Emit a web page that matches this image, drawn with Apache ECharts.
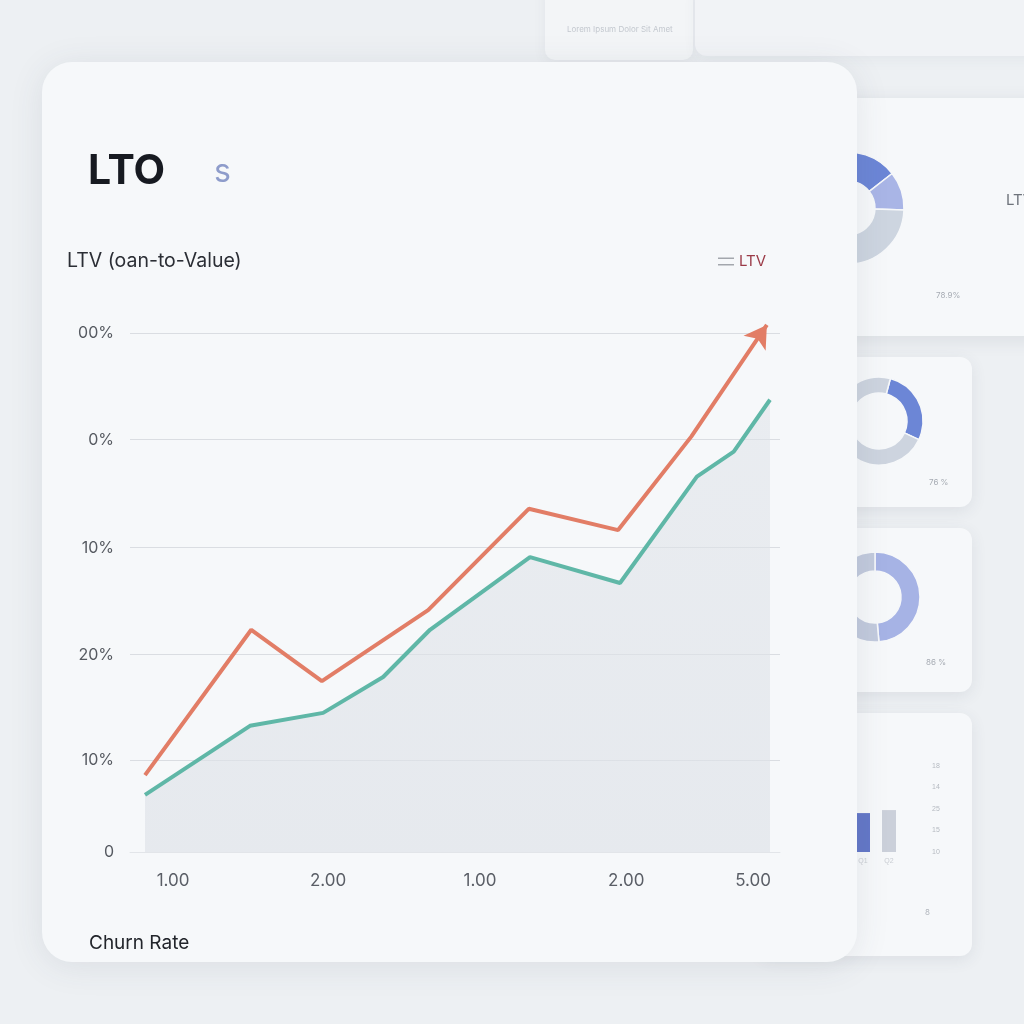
<!DOCTYPE html>
<html>
<head>
<meta charset="utf-8">
<script src="https://cdn.jsdelivr.net/npm/echarts@6/dist/echarts.min.js"></script>
<style>
html,body{margin:0;padding:0;background:#EDF0F3;}
#c{width:1024px;height:1024px;}
</style>
</head>
<body>
<div id="c"></div>
<script>
// ---- main chart data ----
const xTickValues = [4.5, 29.3, 53.6, 77.0, 97.3];
const xTickLabels = ['1.00', '2.00', '1.00', '2.00', '5.00'];
const yTickValues = [0, 17.7, 38.0, 58.6, 79.4, 100];
const yTickLabels = ['0', '10%', '20%', '10%', '0%', '00%'];
const ltvX = [0, 17.0, 28.3, 45.3, 61.4, 75.7, 87.4, 99.5];
const ltvY = [14.8, 42.8, 32.9, 46.6, 66.1, 62.0, 80.0, 101.5];
const churnX = [0, 16.8, 28.5, 38.1, 45.6, 61.6, 76.0, 88.3, 94.2, 100];
const churnY = [11.0, 24.3, 26.8, 33.7, 42.8, 56.8, 51.8, 72.3, 77.1, 87.1];

// ---- background widget data ----
const donutA = [67, 40, 253];
const donutAColors = ['#6C86D6', '#A9B5E6', '#CDD5E0'];
const donutB = [100, 260];
const donutBColors = ['#6C86D6', '#CDD4DF'];
const donutC = [175, 185];
const donutCColors = ['#A6B3E5', '#C2CADD'];
const miniBarCats = ['Q1', 'Q2'];
const miniBarValues = [1.81, 1.95];
const miniBarColors = ['#6478C8', '#CBD0DA'];
const miniYLabels = ['10', '15', '25', '14', '18'];

const RED = '#E27D66';
const TEAL = '#5FB7A7';

const chart = echarts.init(document.getElementById('c'), null, {renderer: 'canvas'});

const ltvData = ltvX.map((x, i) => {
  const last = i === ltvX.length - 1;
  return last ? {value: [x, ltvY[i]], symbol: 'arrow', symbolSize: [20, 22], symbolRotate: -34, itemStyle: {color: RED}}
              : {value: [x, ltvY[i]]};
});
const churnData = churnX.map((x, i) => [x, churnY[i]]);

function card(x, y, w, h, r, fill, z, blur, alpha) {
  return {type: 'rect', z: z, shape: {x: x, y: y, width: w, height: h, r: r},
    style: {fill: fill, shadowBlur: blur, shadowColor: 'rgba(60,70,90,' + alpha + ')', shadowOffsetY: 4}};
}
function txt(x, y, text, font, fill, z, align) {
  return {type: 'text', z: z, style: {x: x, y: y, text: text, font: font, fill: fill, align: align || 'left', verticalAlign: 'middle'}};
}
function donut(vals, colors, center, radius, startAngle) {
  return {
    type: 'pie', z: 1, center: center, radius: radius, startAngle: startAngle,
    silent: true, label: {show: false}, labelLine: {show: false},
    itemStyle: {borderColor: '#F6F8FA', borderWidth: 1.5},
    data: vals.map((v, i) => ({value: v, itemStyle: {color: colors[i]}}))
  };
}

const option = {
  backgroundColor: '#EDF0F3',
  animation: false,
  graphic: [
    // background cards
    card(545, -20, 148, 80, 10, '#F3F5F7', 0, 14, 0.06),
    card(695, -20, 360, 76, 12, '#F1F3F6', 0, 14, 0.05),
    card(700, 98, 360, 238, 14, '#F6F8FA', 0, 18, 0.10),
    card(760, 357, 212, 150, 12, '#F6F8FA', 0, 16, 0.09),
    card(760, 528, 212, 164, 12, '#F6F8FA', 0, 16, 0.09),
    card(760, 713, 212, 243, 12, '#F6F8FA', 0, 16, 0.09),
    txt(567, 30, 'Lorem Ipsum Dolor Sit Amet', '8px Inter', '#C3C8CF', 0),
    txt(1006, 200, 'LTV', '15px Inter', '#6E737B', 0),
    txt(936, 296, '78.9%', '8px Inter', '#A6ABB3', 0),
    txt(929, 483, '76 %', '8px Inter', '#A6ABB3', 0),
    txt(926, 663, '86 %', '8px Inter', '#A6ABB3', 0),
    txt(925, 913, '8', '8px Inter', '#B0B5BC', 0),
    // main card
    card(42, 62, 815, 900, 30, '#F6F8FA', 3, 34, 0.10),
    txt(88, 172, 'LTO', 'bold 41px Inter', '#171A21', 6),
    txt(214, 172, 's', '32px Inter', '#8E9CCB', 6),
    txt(67, 261, 'LTV (oan-to-Value)', '19.5px Inter', '#2B2E35', 6),
    txt(89, 943, 'Churn Rate', '19px Inter', '#22252B', 6)
  ],
  legend: {
    z: 6,
    left: 713, top: 249,
    itemWidth: 16, itemHeight: 8,
    textStyle: {color: '#9B3A47', fontSize: 15, fontFamily: 'Inter'},
    data: [{name: 'LTV', icon: 'path://M0,0H16V1.4H0Z M0,6.6H16V8H0Z', itemStyle: {color: '#A3A7AD'}}]
  },
  grid: [
    {left: 130, right: 244, top: 312, bottom: 172},
    {left: 850, width: 52, top: 766, bottom: 172}
  ],
  xAxis: [
    {
      gridIndex: 0, type: 'value', min: -2.4, max: 101.6, z: 6,
      axisLine: {show: true, lineStyle: {color: '#E2E5E9', width: 1}},
      axisTick: {show: false},
      splitLine: {show: false},
      axisLabel: {
        customValues: xTickValues,
        margin: 20, fontSize: 17, color: '#5A5E66', fontFamily: 'Inter',
        formatter: v => { const i = xTickValues.indexOf(v); return i >= 0 ? xTickLabels[i] : ''; }
      }
    },
    {
      gridIndex: 1, type: 'category', data: miniBarCats, z: 1,
      axisLine: {show: false}, axisTick: {show: false},
      axisLabel: {fontSize: 7, color: '#C9CDD3', margin: 6}
    }
  ],
  yAxis: [
    {
      gridIndex: 0, type: 'value', min: 0, max: 104, z: 6,
      axisLine: {show: false}, axisTick: {show: false},
      splitLine: {show: false},
      axisLabel: {
        customValues: yTickValues,
        margin: 16, fontSize: 16, color: '#565A61', fontFamily: 'Inter',
        formatter: v => { const i = yTickValues.indexOf(v); return i >= 0 ? yTickLabels[i] : ''; }
      }
    },
    {
      gridIndex: 1, type: 'value', min: 0, max: 4, interval: 1, position: 'right', z: 1,
      axisLine: {show: false}, axisTick: {show: false}, splitLine: {show: false},
      axisLabel: {fontSize: 7, color: '#B5BAC1', margin: 30, formatter: v => miniYLabels[v] || ''}
    }
  ],
  series: [
    {
      name: 'Churn Rate', type: 'line', xAxisIndex: 0, yAxisIndex: 0, z: 7,
      data: churnData, symbol: 'none',
      lineStyle: {color: TEAL, width: 4},
      itemStyle: {color: TEAL},
      areaStyle: {color: new echarts.graphic.LinearGradient(0, 0, 0, 1, [
        {offset: 0, color: 'rgba(222,226,232,0.75)'},
        {offset: 1, color: 'rgba(222,226,232,0.95)'}
      ])},
      markLine: {
        silent: true, symbol: 'none', z: 6,
        label: {show: false},
        lineStyle: {color: '#DADDE2', width: 1, type: 'solid'},
        data: yTickValues.slice(1).map(v => ({yAxis: v}))
      }
    },
    {
      name: 'LTV', type: 'line', xAxisIndex: 0, yAxisIndex: 0, z: 8,
      data: ltvData, symbol: 'none', showSymbol: true,
      lineStyle: {color: RED, width: 4},
      itemStyle: {color: RED}
    },
    donut(donutA, donutAColors, [848, 208], [27, 56], 105),
    donut(donutB, donutBColors, [879, 421], [28, 44], 75),
    donut(donutC, donutCColors, [875, 597], [26, 45], 90),
    {
      type: 'bar', xAxisIndex: 1, yAxisIndex: 1, z: 1, barWidth: 14, silent: true,
      data: miniBarValues.map((v, i) => ({value: v, itemStyle: {color: miniBarColors[i]}}))
    }
  ]
};
chart.setOption(option);
</script>
</body>
</html>
